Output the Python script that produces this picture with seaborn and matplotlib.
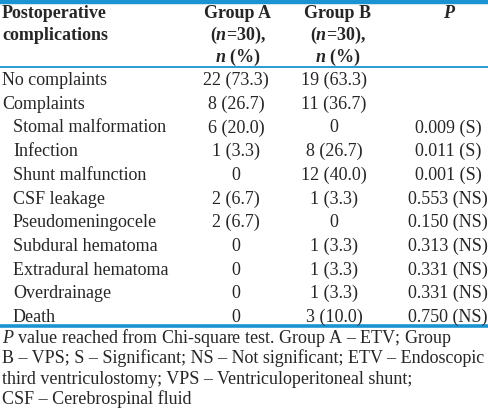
import matplotlib
matplotlib.use("Agg")
import matplotlib.pyplot as plt
import seaborn as sns
import pandas as pd

# ---- data ----
complications = ["No complaints", "Complaints", "Stomal malformation", "Infection",
                 "Shunt malfunction", "CSF leakage", "Pseudomeningocele",
                 "Subdural hematoma", "Extradural hematoma", "Overdrainage", "Death"]
is_subitem = [False, False, True, True, True, True, True, True, True, True, True]
group_a = ["22 (73.3)", "8 (26.7)", "6 (20.0)", "1 (3.3)", "0", "2 (6.7)", "2 (6.7)",
           "0", "0", "0", "0"]
group_b = ["19 (63.3)", "11 (36.7)", "0", "8 (26.7)", "12 (40.0)", "1 (3.3)", "0",
           "1 (3.3)", "1 (3.3)", "1 (3.3)", "3 (10.0)"]
p_values = ["", "", "0.009 (S)", "0.011 (S)", "0.001 (S)", "0.553 (NS)", "0.150 (NS)",
            "0.313 (NS)", "0.331 (NS)", "0.331 (NS)", "0.750 (NS)"]
header_first = ["Postoperative", "complications"]
header_a = ["Group A", r"($\mathbfit{n}$=30),", r"$\mathbfit{n}$ (%)"]
header_b = ["Group B", r"($\mathbfit{n}$=30),", r"$\mathbfit{n}$ (%)"]
header_p = [r"$\mathbfit{P}$"]
footnote = [r"$\mathit{P}$ value reached from Chi-square test. Group A – ETV; Group",
            "B – VPS; S – Significant; NS – Not significant; ETV – Endoscopic",
            "third ventriculostomy; VPS – Ventriculoperitoneal shunt;",
            "CSF – Cerebrospinal fluid"]

df = pd.DataFrame({"complication": complications, "sub": is_subitem,
                   "a": group_a, "b": group_b, "p": p_values})

sns.set_theme(style="white")
plt.rcParams["font.family"] = ["Liberation Serif", "DejaVu Serif"]
plt.rcParams["mathtext.fontset"] = "custom"
plt.rcParams["mathtext.rm"] = "Liberation Serif"
plt.rcParams["mathtext.it"] = "Liberation Serif:italic"
plt.rcParams["mathtext.bf"] = "Liberation Serif:bold"
plt.rcParams["mathtext.bfit"] = "Liberation Serif:italic:bold"

W, H = 488, 416
fig = plt.figure(figsize=(W / 100, H / 100), dpi=100)
fig.patch.set_facecolor("white")
ax = fig.add_axes([0, 0, 1, 1])
ax.set_xlim(0, W)
ax.set_ylim(H, 0)
ax.axis("off")

blue = "#1b93d2"
fs = 13
xa, xb, xp = 236, 334, 448

# rules
ax.axhline(1.5, color=blue, lw=3.2)
ax.axhline(67, color=blue, lw=1.3)
ax.axhline(325.5, color=blue, lw=2.6)

# header
hy = [13, 35, 57]
for i, t in enumerate(header_first):
    ax.text(2, hy[i], t, fontsize=fs, fontweight="bold", ha="left", va="center")
for i, t in enumerate(header_a):
    ax.text(xa + 2, hy[i], t, fontsize=fs, fontweight="bold", ha="center", va="center")
for i, t in enumerate(header_b):
    ax.text(xb + 4, hy[i], t, fontsize=fs, fontweight="bold", ha="center", va="center")
for i, t in enumerate(header_p):
    ax.text(xp + 2, hy[i], t, fontsize=fs, fontweight="bold", ha="center", va="center")

# body
y0, dy = 80.5, 23.7
for i, row in df.iterrows():
    y = y0 + dy * i
    ax.text(13 if row["sub"] else 2, y, row["complication"], fontsize=fs,
            ha="left", va="center")
    ax.text(xa, y, row["a"], fontsize=fs, ha="center", va="center")
    ax.text(xb, y, row["b"], fontsize=fs, ha="center", va="center")
    if row["p"]:
        ax.text(xp, y, row["p"], fontsize=fs, ha="center", va="center")

# footnote
fy0, fdy = 338, 20.5
for i, t in enumerate(footnote):
    ax.text(2, fy0 + fdy * i, t, fontsize=fs, ha="left", va="center")

fig.savefig("out.png", dpi=100, facecolor="white")
